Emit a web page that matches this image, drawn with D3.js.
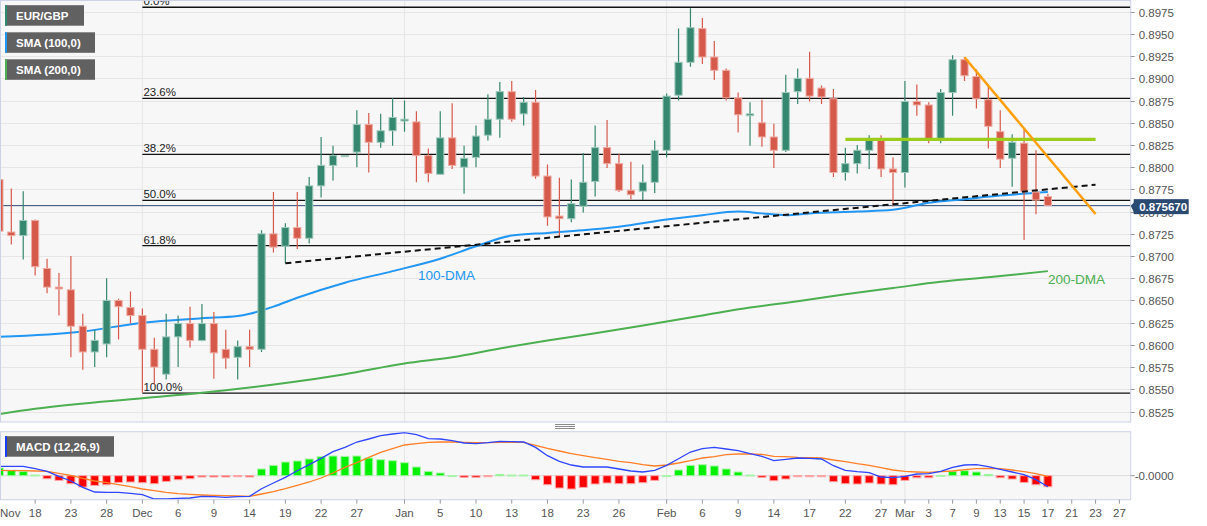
<!DOCTYPE html>
<html><head><meta charset="utf-8">
<script src="https://cdn.jsdelivr.net/npm/d3@7"></script>
<style>
body{margin:0;background:#fff;}
svg{display:block;font-family:"Liberation Sans",Arial,sans-serif;}
</style>
</head><body>
<svg id="c" width="1207" height="526"></svg>
<script>
// ---------- DATA ----------
const dates = ["2022-11-15","2022-11-16","2022-11-17","2022-11-18","2022-11-21","2022-11-22","2022-11-23","2022-11-24","2022-11-25","2022-11-28",
"2022-11-29","2022-11-30","2022-12-01","2022-12-02","2022-12-05","2022-12-06","2022-12-07","2022-12-08","2022-12-09","2022-12-12",
"2022-12-13","2022-12-14","2022-12-15","2022-12-16","2022-12-19","2022-12-20","2022-12-21","2022-12-22","2022-12-23","2022-12-26",
"2022-12-27","2022-12-28","2022-12-29","2022-12-30","2023-01-02","2023-01-03","2023-01-04","2023-01-05","2023-01-06","2023-01-09",
"2023-01-10","2023-01-11","2023-01-12","2023-01-13","2023-01-16","2023-01-17","2023-01-18","2023-01-19","2023-01-20","2023-01-23",
"2023-01-24","2023-01-25","2023-01-26","2023-01-27","2023-01-30","2023-01-31","2023-02-01","2023-02-02","2023-02-03","2023-02-06",
"2023-02-07","2023-02-08","2023-02-09","2023-02-10","2023-02-13","2023-02-14","2023-02-15","2023-02-16","2023-02-17","2023-02-20",
"2023-02-21","2023-02-22","2023-02-23","2023-02-24","2023-02-27","2023-02-28","2023-03-01","2023-03-02","2023-03-03","2023-03-06",
"2023-03-07","2023-03-08","2023-03-09","2023-03-10","2023-03-13","2023-03-14","2023-03-15","2023-03-16","2023-03-17"];

const open = [0.8786,0.8727,0.8723,0.8740,0.8686,0.8665,0.8662,0.8621,0.8592,0.8601,
0.8650,0.8642,0.8633,0.8595,0.8567,0.8609,0.8624,0.8605,0.8624,0.8595,
0.8586,0.8598,0.8595,0.8725,0.8711,0.8732,0.8720,0.8779,0.8802,0.8812,
0.8817,0.8848,0.8828,0.8841,0.8852,0.8851,0.8813,0.8792,0.8833,0.8800,
0.8811,0.8836,0.8854,0.8885,0.8860,0.8873,0.8790,0.8745,0.8742,0.8756,
0.8784,0.8822,0.8804,0.8774,0.8773,0.8783,0.8819,0.8881,0.8918,0.8956,
0.8924,0.8909,0.8878,0.8858,0.8850,0.8834,0.8819,0.8885,0.8900,0.8889,
0.8877,0.8794,0.8804,0.8819,0.8830,0.8798,0.8794,0.8874,0.8870,0.8831,
0.8884,0.8921,0.8902,0.8876,0.8840,0.8810,0.8827,0.8772,0.8767];
const high = [0.8806,0.8776,0.8773,0.8741,0.8697,0.8681,0.8700,0.8635,0.8617,0.8675,
0.8652,0.8660,0.8641,0.8608,0.8635,0.8633,0.8643,0.8646,0.8637,0.8617,
0.8605,0.8617,0.8729,0.8772,0.8737,0.8772,0.8789,0.8834,0.8824,0.8813,
0.8864,0.8861,0.8860,0.8878,0.8875,0.8863,0.8821,0.8863,0.8872,0.8824,
0.8847,0.8882,0.8896,0.8897,0.8879,0.8887,0.8803,0.8788,0.8786,0.8816,
0.8847,0.8853,0.8815,0.8806,0.8803,0.8830,0.8883,0.8956,0.8979,0.8968,
0.8942,0.8911,0.8884,0.8873,0.8876,0.8849,0.8904,0.8911,0.8930,0.8892,
0.8888,0.8822,0.8825,0.8836,0.8836,0.8811,0.8897,0.8893,0.8873,0.8888,
0.8926,0.8924,0.8910,0.8891,0.8864,0.8837,0.8844,0.8819,0.8770];
const low = [0.8708,0.8713,0.8696,0.8678,0.8658,0.8633,0.8586,0.8572,0.8575,0.8586,
0.8606,0.8624,0.8546,0.8555,0.8561,0.8575,0.8597,0.8604,0.8562,0.8573,
0.8561,0.8575,0.8592,0.8704,0.8692,0.8708,0.8714,0.8766,0.8785,0.8812,
0.8800,0.8794,0.8822,0.8824,0.8840,0.8783,0.8783,0.8792,0.8798,0.8770,
0.8800,0.8830,0.8833,0.8851,0.8847,0.8787,0.8734,0.8722,0.8738,0.8749,
0.8767,0.8799,0.8772,0.8764,0.8763,0.8771,0.8811,0.8875,0.8913,0.8916,
0.8898,0.8875,0.8839,0.8824,0.8823,0.8799,0.8817,0.8871,0.8874,0.8871,
0.8789,0.8785,0.8793,0.8798,0.8789,0.8756,0.8777,0.8858,0.8827,0.8827,
0.8858,0.8897,0.8866,0.8821,0.8799,0.8778,0.8718,0.8747,0.8757];
const close = [0.8728,0.8723,0.8740,0.8688,0.8665,0.8663,0.8621,0.8592,0.8605,0.8650,
0.8643,0.8633,0.8595,0.8575,0.8609,0.8624,0.8605,0.8624,0.8591,0.8585,
0.8598,0.8595,0.8725,0.8710,0.8732,0.8720,0.8779,0.8802,0.8813,0.8813,
0.8848,0.8828,0.8841,0.8856,0.8854,0.8813,0.8793,0.8833,0.8802,0.8810,
0.8835,0.8854,0.8885,0.8854,0.8873,0.8790,0.8744,0.8742,0.8759,0.8783,
0.8822,0.8804,0.8774,0.8769,0.8783,0.8819,0.8880,0.8918,0.8957,0.8924,
0.8909,0.8878,0.8859,0.8860,0.8834,0.8819,0.8884,0.8900,0.8880,0.8879,
0.8794,0.8804,0.8819,0.8830,0.8798,0.8794,0.8874,0.8870,0.8832,0.8884,
0.8921,0.8903,0.8877,0.8846,0.8809,0.8828,0.8773,0.8763,0.87567];

const sma100 = [["2022-11-15",0.8609],["2022-11-24",0.8615],["2022-12-01",0.8625],["2022-12-08",0.8630],["2022-12-13",0.86325],
["2022-12-14",0.8635],["2022-12-16",0.8643],["2022-12-20",0.8653],["2022-12-26",0.8670],["2022-12-30",0.8683],
["2023-01-05",0.8697],["2023-01-10",0.8711],["2023-01-13",0.8723],["2023-01-18",0.8726],["2023-01-23",0.8729],
["2023-01-26",0.8733],["2023-02-01",0.8741],["2023-02-06",0.8746],["2023-02-09",0.8750],["2023-02-13",0.8748],
["2023-02-15",0.8746],["2023-02-17",0.8748],["2023-02-23",0.8750],["2023-02-28",0.8752],["2023-03-03",0.8760],
["2023-03-08",0.8764],["2023-03-13",0.8768],["2023-03-17",0.8772]];
const sma200 = [["2022-11-15",0.8522],["2022-11-18",0.8528],["2022-12-01",0.8540],["2022-12-08",0.8546],["2022-12-19",0.8557],
["2022-12-26",0.8567],["2023-01-02",0.8579],["2023-01-06",0.8586],["2023-01-12",0.8596],["2023-01-18",0.8605],
["2023-01-24",0.8613],["2023-01-31",0.8624],["2023-02-06",0.8633],["2023-02-10",0.8642],["2023-02-16",0.8649],
["2023-02-22",0.8657],["2023-02-28",0.8664],["2023-03-06",0.8671],["2023-03-10",0.8676],["2023-03-17",0.8683]];

const macdLine = [0.00093,0.00093,0.00093,0.0007,0.00043,-0.00007,-0.00053,-0.00117,-0.00163,-0.00167,
-0.00167,-0.00177,-0.0019,-0.00233,-0.00233,-0.00227,-0.00223,-0.00207,-0.0021,-0.00217,
-0.0021,-0.00207,-0.0013,-0.00073,-0.00017,0.0005,0.0011,0.00173,0.0024,0.00283,
0.00337,0.00367,0.004,0.00417,0.0043,0.0041,0.0037,0.00367,0.0035,0.00327,
0.0032,0.0033,0.00343,0.0034,0.00337,0.00283,0.002,0.00143,0.00107,0.00087,
0.00087,0.00087,0.00067,0.00047,0.00037,0.00053,0.00103,0.0017,0.00237,0.0027,
0.00283,0.00267,0.0025,0.0022,0.00193,0.0015,0.00163,0.00177,0.00173,0.00167,
0.001,0.00053,0.0004,0.0003,-0.00013,-0.0002,-0.00007,0.00017,0.0002,0.00043,
0.00083,0.00107,0.0011,0.0009,0.00063,0.00037,0.0001,-0.0004,-0.0011];
const signalLine = [0.00053,0.0005,0.0005,0.00047,0.00043,0.00023,0.00003,-0.00027,-0.00053,-0.0007,
-0.0009,-0.0011,-0.00133,-0.0015,-0.00167,-0.0018,-0.00187,-0.00193,-0.00197,-0.002,
-0.00203,-0.00207,-0.00183,-0.0016,-0.0013,-0.00097,-0.00063,-0.00023,0.00027,0.00083,
0.0013,0.00183,0.00233,0.0027,0.00307,0.0032,0.00333,0.00337,0.00337,0.00333,
0.0033,0.0033,0.00333,0.00333,0.00333,0.00303,0.00273,0.00247,0.0022,0.002,
0.0018,0.00163,0.00143,0.0013,0.0011,0.00097,0.00107,0.00127,0.0015,0.00177,
0.0019,0.0021,0.00217,0.00217,0.00213,0.00193,0.0019,0.00183,0.0018,0.00177,
0.00157,0.0014,0.0012,0.00103,0.0008,0.00057,0.00043,0.00037,0.00033,0.0004,
0.00047,0.0006,0.0007,0.00073,0.0007,0.00057,0.0004,0.0002,-0.00007];
const histogram = [0.00077,0.00053,0.00043,0.00007,-0.0003,-0.00047,-0.0008,-0.00113,-0.00097,-0.0009,
-0.00067,-0.00063,-0.0007,-0.0008,-0.00057,-0.0004,-0.0003,-0.00013,-0.00013,-0.00013,
-0.0001,-0.00013,0.00067,0.00103,0.00137,0.00147,0.00167,0.0019,0.00197,0.00193,
0.00197,0.00177,0.0016,0.0015,0.0013,0.00087,0.00043,0.00027,0.00001,-0.00017,
-0.00017,-0.0001,0.00013,0.00007,0.00007,-0.0004,-0.0009,-0.00123,-0.00133,-0.00117,
-0.00083,-0.00073,-0.0008,-0.0008,-0.0007,-0.00047,0.00001,0.00057,0.00103,0.0011,
0.00097,0.00067,0.00037,0.00007,-0.00017,-0.0005,-0.00033,-0.0001,-0.0001,-0.0001,
-0.0006,-0.0008,-0.00083,-0.00073,-0.00083,-0.0009,-0.00047,-0.0002,-0.0002,0.00003,
0.00043,0.0005,0.00037,0.00013,-0.0002,-0.00033,-0.00067,-0.0009,-0.0011];

const priceTicks = [0.8525,0.8550,0.8575,0.8600,0.8625,0.8650,0.8675,0.8700,0.8725,0.8750,0.8775,0.8800,0.8825,0.8850,0.8875,0.8900,0.8925,0.8950,0.8975];
const dateTicks = [["2022-11-15","Nov"],["2022-11-18","18"],["2022-11-23","23"],["2022-11-28","28"],["2022-12-01","Dec"],["2022-12-06","6"],
["2022-12-09","9"],["2022-12-14","14"],["2022-12-19","19"],["2022-12-22","22"],["2022-12-27","27"],["2023-01-02","Jan"],["2023-01-05","5"],
["2023-01-10","10"],["2023-01-13","13"],["2023-01-18","18"],["2023-01-23","23"],["2023-01-26","26"],["2023-02-01","Feb"],["2023-02-06","6"],
["2023-02-09","9"],["2023-02-14","14"],["2023-02-17","17"],["2023-02-22","22"],["2023-02-27","27"],["2023-03-01","Mar"],["2023-03-03","3"],
["2023-03-07","7"],["2023-03-09","9"],["2023-03-13","13"],["2023-03-15","15"],["2023-03-17","17"],["2023-03-21","21"],["2023-03-23","23"],["2023-03-27","27"]];
const monthStarts = ["2022-12-01","2023-01-02","2023-02-01","2023-03-01"];
const fibLabels = ["0.0%","23.6%","38.2%","50.0%","61.8%","100.0%"];
const fibValues = [0.8980,0.88775,0.88145,0.87627,0.87116,0.85457];
const fibStart = "2022-12-01";
const lastPrice = 0.875670;
const supportTrend = [["2022-12-19",0.86919],["2023-03-23",0.87803]];
const resistanceTrend = [["2023-03-08",0.89237],["2023-03-23",0.87473]];
const horizontalLevel = [["2023-02-22",0.88314],["2023-03-23",0.88314]];

// ---------- LAYOUT ----------
const svg = d3.select("#c");
const PL = 0.5, PR = 1130.7;
const mainTop = 0.5, mainBot = 422;
const macdTop = 431.7, macdBot = 499.7;
const C = {green:"#35876f", greenEdge:"#9ec9bb", red:"#d65a4b", redEdge:"#eeaca3",
  grid:"#e6e6e6", border:"#cdd3e4", bg:"#f7f7f7", text:"#555"};

const t0 = Date.UTC(2022,10,15);
function wd(s){
  const p = s.split("-").map(Number);
  const t = Date.UTC(p[0],p[1]-1,p[2]);
  let n = 0;
  for (let u=t0; u<t; u+=864e5){ const g=new Date(u).getUTCDay(); if(g!==0&&g!==6) n++; }
  return n;
}
const x = d3.scaleLinear().domain([0,88]).range([-0.6,1047.9]);
const X = s => x(wd(s));
const y = d3.scaleLinear().domain([0.8525,0.8975]).range([411.5,11.7]);
const ym = d3.scaleLinear().domain([-0.0024,0.0044]).range([499.7,431.7]);

const defs = svg.append("defs");
defs.append("clipPath").attr("id","cm").append("rect").attr("x",PL).attr("y",mainTop).attr("width",PR-PL).attr("height",mainBot-mainTop);
defs.append("clipPath").attr("id","cd").append("rect").attr("x",PL).attr("y",macdTop).attr("width",PR-PL).attr("height",macdBot-macdTop);

// backgrounds
svg.append("rect").attr("x",PL).attr("y",mainTop).attr("width",PR-PL).attr("height",mainBot-mainTop).attr("fill",C.bg);
svg.append("rect").attr("x",PL).attr("y",macdTop).attr("width",PR-PL).attr("height",macdBot-macdTop).attr("fill",C.bg);

const gm = svg.append("g").attr("clip-path","url(#cm)");
const gd = svg.append("g").attr("clip-path","url(#cd)");

// grid
gm.selectAll(".hg").data(priceTicks).join("line").attr("x1",PL).attr("x2",PR)
  .attr("y1",d=>Math.round(y(d))+0.5).attr("y2",d=>Math.round(y(d))+0.5).attr("stroke",C.grid).attr("stroke-width",1);
gm.selectAll(".vg").data(monthStarts).join("line").attr("x1",d=>X(d)).attr("x2",d=>X(d))
  .attr("y1",mainTop).attr("y2",mainBot).attr("stroke",C.grid);
gd.selectAll(".vg").data(monthStarts).join("line").attr("x1",d=>X(d)).attr("x2",d=>X(d))
  .attr("y1",macdTop).attr("y2",macdBot).attr("stroke",C.grid);
gd.append("line").attr("x1",PL).attr("x2",PR).attr("y1",ym(0)).attr("y2",ym(0)).attr("stroke","#dcdcdc");

// fibonacci levels
fibValues.forEach((v,i)=>{
  gm.append("line").attr("x1",X(fibStart)).attr("x2",PR).attr("y1",y(v)).attr("y2",y(v))
    .attr("stroke","#111").attr("stroke-width",1.3);
  gm.append("text").attr("x",X(fibStart)+1).attr("y",y(v)-2).attr("font-size",11.5).attr("fill","#222").text(fibLabels[i]);
});

// last price line
gm.append("line").attr("x1",PL).attr("x2",PR).attr("y1",y(lastPrice)).attr("y2",y(lastPrice)).attr("stroke","#2b4a72").attr("stroke-width",1);

// SMA lines
const lineP = d3.line().x(d=>X(d[0])).y(d=>y(d[1])).curve(d3.curveMonotoneX);
gm.append("path").attr("d",lineP(sma200)).attr("fill","none").attr("stroke","#4caf50").attr("stroke-width",2);
gm.append("path").attr("d",lineP(sma100)).attr("fill","none").attr("stroke","#2196f3").attr("stroke-width",2);

// candles
const cd = dates.map((d,i)=>({d, o:open[i], h:high[i], l:low[i], c:close[i]}));
const cg = gm.selectAll(".cd").data(cd).join("g");
cg.append("line").attr("x1",d=>X(d.d)).attr("x2",d=>X(d.d)).attr("y1",d=>y(d.h)).attr("y2",d=>y(d.l))
  .attr("stroke",d=>d.c>=d.o?C.green:C.red).attr("stroke-width",1.2);
cg.append("rect").attr("x",d=>X(d.d)-3.6).attr("width",7.2)
  .attr("y",d=>y(Math.max(d.o,d.c))).attr("height",d=>Math.max(1,Math.abs(y(d.o)-y(d.c))))
  .attr("fill",d=>d.c>=d.o?C.green:C.red).attr("stroke",d=>d.c>=d.o?C.greenEdge:C.redEdge).attr("stroke-width",1);

// trend lines
const lineL = d3.line().x(d=>X(d[0])).y(d=>y(d[1]));
gm.append("path").attr("d",lineL(supportTrend)).attr("stroke","#111").attr("stroke-width",2).attr("stroke-dasharray","6,4").attr("fill","none");
gm.append("path").attr("d",lineL(horizontalLevel)).attr("stroke","#9ccc1c").attr("stroke-width",3.2).attr("fill","none");
gm.append("path").attr("d",lineL(resistanceTrend)).attr("stroke","#ff9f0a").attr("stroke-width",2.5).attr("fill","none");

// annotations
gm.append("text").attr("x",418).attr("y",280).attr("font-size",13.5).attr("fill","#2196f3").text("100-DMA");
gm.append("text").attr("x",1048).attr("y",284).attr("font-size",13.5).attr("fill","#4caf50").text("200-DMA");

// MACD histogram
const hd = dates.map((d,i)=>({d, v:histogram[i]}));
gd.selectAll(".hb").data(hd).join("rect")
  .attr("x",d=>X(d.d)-4).attr("width",8)
  .attr("y",d=>d.v>=0?ym(d.v):ym(0)).attr("height",d=>Math.max(1,Math.abs(ym(d.v)-ym(0))))
  .attr("fill",d=>Math.abs(d.v)<0.00008?(d.v>=0?"#9df59d":"#ff9e9e"):(d.v>=0?"#00f000":"#ff0000"))
  .attr("stroke",d=>d.v>=0?"#a8f5a8":"#ffa5a5").attr("stroke-width",1);
const lineM = d3.line().x((d,i)=>X(dates[i])).y(d=>ym(d));
gd.append("path").attr("d",lineM(signalLine)).attr("fill","none").attr("stroke","#ff7f27").attr("stroke-width",1.3);
gd.append("path").attr("d",lineM(macdLine)).attr("fill","none").attr("stroke","#2f45ff").attr("stroke-width",1.3);

// panel borders
svg.append("rect").attr("x",PL).attr("y",mainTop).attr("width",PR-PL).attr("height",mainBot-mainTop).attr("fill","none").attr("stroke",C.border);
svg.append("rect").attr("x",PL).attr("y",macdTop).attr("width",PR-PL).attr("height",macdBot-macdTop).attr("fill","none").attr("stroke",C.border);

// resize handle
[424.5,426.5,428.5].forEach(v=>svg.append("line").attr("x1",555).attr("x2",575).attr("y1",v).attr("y2",v).attr("stroke","#8a8a8a"));

// right axis
const ra = svg.append("g");
priceTicks.forEach(v=>{
  const yy = Math.round(y(v))+0.5;
  ra.append("line").attr("x1",PR).attr("x2",PR+4).attr("y1",yy).attr("y2",yy).attr("stroke","#999");
  ra.append("text").attr("x",PR+8).attr("y",yy).attr("dy","0.35em").attr("font-size",11.5).attr("fill",C.text).text(v.toFixed(4));
});
ra.append("line").attr("x1",PR).attr("x2",PR+4).attr("y1",ym(0)).attr("y2",ym(0)).attr("stroke","#999");
ra.append("text").attr("x",PR+4).attr("y",ym(0)).attr("dy","0.35em").attr("font-size",11.5).attr("fill",C.text).text("-0.0000");

// last price tag
const ly = y(lastPrice);
ra.append("path").attr("d",`M${PR},${ly} L${PR+4},${ly-4} L${PR+4},${ly+8} Z`).attr("fill","#2b4a72");
ra.append("rect").attr("x",PR+3).attr("y",ly-6.5).attr("width",55).attr("height",15).attr("fill","#2b4a72");
ra.append("text").attr("x",PR+8.5).attr("y",ly+5).attr("font-size",11.5).attr("font-weight","bold").attr("fill","#fff").text(lastPrice.toFixed(6));

// bottom axis
const ba = svg.append("g");
dateTicks.forEach(([d,l])=>{
  const xx = X(d);
  ba.append("line").attr("x1",xx).attr("x2",xx).attr("y1",macdBot).attr("y2",macdBot+4).attr("stroke","#999");
  const t = ba.append("text").attr("y",517).attr("font-size",11.5).attr("fill",C.text).text(l);
  if (xx < 10) t.attr("x",0).attr("text-anchor","start"); else t.attr("x",xx).attr("text-anchor","middle");
});

// legends
function legend(yTop, w, label, accent){
  svg.append("rect").attr("x",5).attr("y",yTop).attr("width",w).attr("height",20.5).attr("fill","#616161");
  svg.append("rect").attr("x",5).attr("y",yTop).attr("width",2).attr("height",20.5).attr("fill",accent);
  svg.append("text").attr("x",16).attr("y",yTop+14.8).attr("font-size",11.5).attr("font-weight","bold").attr("fill","#fff").text(label);
}
legend(5.2, 79, "EUR/GBP", "#2e8b70");
legend(32.3, 90, "SMA (100,0)", "#2196f3");
legend(59.3, 90, "SMA (200,0)", "#4caf50");
legend(436.2, 109, "MACD (12,26,9)", "#1a3cff");
</script>
</body></html>
